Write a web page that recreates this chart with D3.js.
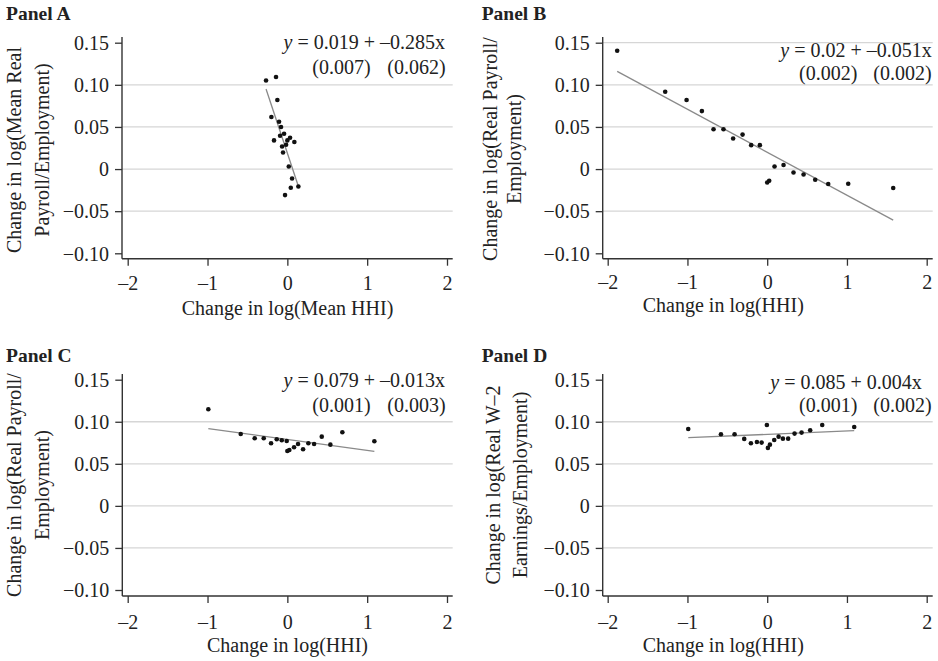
<!DOCTYPE html>
<html>
<head>
<meta charset="utf-8">
<script src="https://cdn.jsdelivr.net/npm/d3@7"></script>
<style>
  body { margin: 0; background: #fff; }
  svg { display: block; }
  text { font-family: "Liberation Serif", "Times New Roman", serif; fill: #222; }
</style>
</head>
<body>
<svg id="chart" width="938" height="661"></svg>
<script>
// Axis ticks shared by all four panels
const xTicks = [-2, -1, 0, 1, 2];
const yTicks = [0.15, 0.10, 0.05, 0, -0.05, -0.10];

// Panel A: mean HHI vs mean real payroll per employee
const aX = [-0.267, -0.142, -0.125, -0.200, -0.104, -0.079, -0.041, -0.091, 0.034, -0.167,
            0.000, 0.088, -0.016, -0.066, -0.054, 0.018, 0.059, 0.138, 0.043, -0.029];
const aY = [0.1052, 0.1093, 0.0820, 0.0618, 0.0562, 0.0499, 0.0419, 0.0396, 0.0372, 0.0340,
            0.0340, 0.0321, 0.0289, 0.0268, 0.0197, 0.0031, -0.0112, -0.0207, -0.0222, -0.0309];
// Panel B: HHI vs real payroll per employee
const bX = [-1.881, -1.279, -1.011, -0.819, -0.673, -0.548, -0.427, -0.309, -0.201, -0.092,
            0.000, 0.025, 0.092, 0.205, 0.330, 0.456, 0.602, 0.765, 1.016, 1.580];
const bY = [0.1405, 0.0918, 0.0819, 0.0688, 0.0473, 0.0473, 0.0362, 0.0409, 0.0284, 0.0284,
            -0.0159, -0.0139, 0.0031, 0.0048, -0.0040, -0.0064, -0.0127, -0.0178, -0.0174, -0.0225];
// Panel C: HHI vs real payroll per employee (second sample)
const cX = [-0.990, -0.584, -0.409, -0.296, -0.204, -0.133, -0.070, -0.008, 0.000, 0.025,
            0.084, 0.134, 0.197, 0.263, 0.335, 0.431, 0.539, 0.689, 1.090];
const cY = [0.1148, 0.0855, 0.0804, 0.0804, 0.0745, 0.0792, 0.0780, 0.0772, 0.0653, 0.0665,
            0.0697, 0.0736, 0.0673, 0.0745, 0.0736, 0.0823, 0.0728, 0.0875, 0.0768];
// Panel D: HHI vs real W-2 earnings per employee
const dX = [-0.990, -0.580, -0.409, -0.288, -0.204, -0.129, -0.070, -0.004, 0.009, 0.034,
            0.088, 0.143, 0.197, 0.263, 0.343, 0.431, 0.539, 0.690, 1.091];
const dY = [0.0914, 0.0852, 0.0852, 0.0796, 0.0745, 0.0760, 0.0752, 0.0962, 0.0689, 0.0728,
            0.0784, 0.0823, 0.0799, 0.0799, 0.0859, 0.0871, 0.0899, 0.0962, 0.0938];

// Fitted lines: intercept, slope and their standard errors
const intercepts = [0.019, 0.02, 0.079, 0.085];
const slopes = [-0.285, -0.051, -0.013, 0.004];
const interceptSE = [0.007, 0.002, 0.001, 0.001];
const slopeSE = [0.062, 0.002, 0.003, 0.002];

const panelTitles = ["Panel A", "Panel B", "Panel C", "Panel D"];
const xTitles = ["Change in log(Mean HHI)", "Change in log(HHI)", "Change in log(HHI)", "Change in log(HHI)"];
const yTitles = [
  ["Change in log(Mean Real", "Payroll/Employment)"],
  ["Change in log(Real Payroll/", "Employment)"],
  ["Change in log(Real Payroll/", "Employment)"],
  ["Change in log(Real W\u20132", "Earnings/Employment)"]
];
const gridTicks = [
  [0.10, 0.05, 0, -0.05],
  [0.15, 0.10, 0.05, 0, -0.05],
  [0.10, 0.05, 0, -0.05],
  [0.10, 0.05, 0, -0.05]
];
const xsAll = [aX, bX, cX, dX];
const ysAll = [aY, bY, cY, dY];

// Page layout of each panel (pixels)
const layout = [
  { left: 122, right: 452.7, x0: 127.7, x1: 447, yTop: 42.7, yBot: 253.3, axTop: 37, axBot: 258.7,
    title: [6, 20], yl: [21, 49, 150], xl: [287.5, 315], tickY: 290,
    eq: { x: 445, y1: 49.3, y2: 73.5, c1: 370.7, c2: 445.7 } },
  { left: 602.7, right: 932.7, x0: 607.7, x1: 926.7, yTop: 42.7, yBot: 253.3, axTop: 37, axBot: 258.7,
    title: [481.7, 20], yl: [497, 521, 149], xl: [723.3, 311.7], tickY: 289.5,
    eq: { x: 931.7, y1: 56.7, y2: 80, c1: 857.3, c2: 931.7 } },
  { left: 122.3, right: 452.7, x0: 127.7, x1: 447, yTop: 379.7, yBot: 590, axTop: 374, axBot: 596,
    title: [6, 361.7], yl: [21, 49, 485], xl: [287.5, 651.7], tickY: 628.5,
    eq: { x: 445, y1: 387.3, y2: 411.5, c1: 370.7, c2: 445.7 } },
  { left: 602.7, right: 932.7, x0: 607.7, x1: 926.7, yTop: 379.7, yBot: 590, axTop: 374, axBot: 596,
    title: [481.7, 361.7], yl: [500, 527, 485], xl: [723.3, 651.7], tickY: 628.5,
    eq: { x: 921.7, y1: 389, y2: 412, c1: 857.3, c2: 931.7 } }
];

const dash = s => s.replace(/-/g, "\u2013");
const fmtTickY = v => v === 0 ? "0" : dash(d3.format(".2f")(v));
const fmtTickX = v => dash(String(v));
const fmtCoef = v => dash(String(v));
const fmtSE = v => "(" + d3.format(".3f")(v) + ")";

const svg = d3.select("#chart");
const FS = 20;

layout.forEach((L, i) => {
  const g = svg.append("g");
  const x = d3.scaleLinear().domain([-2, 2]).range([L.x0, L.x1]);
  const y = d3.scaleLinear().domain([-0.10, 0.15]).range([L.yBot, L.yTop]);

  // gridlines
  g.selectAll(".grid").data(gridTicks[i]).join("line")
    .attr("x1", L.left).attr("x2", L.right)
    .attr("y1", d => y(d)).attr("y2", d => y(d))
    .attr("stroke", "#d6d6d6").attr("stroke-width", 1.3);

  // y axis
  const yAxis = d3.axisLeft(y).tickValues(yTicks).tickFormat(fmtTickY)
    .tickSize(7).tickPadding(6);
  const ya = g.append("g").attr("transform", `translate(${L.left},0)`).call(yAxis);
  ya.select(".domain").remove();
  ya.selectAll(".tick line").attr("stroke", "#333").attr("stroke-width", 1.3);
  ya.selectAll(".tick text").attr("font-size", FS).attr("font-family", "Liberation Serif")
    .attr("fill", "#222").attr("dy", "0.34em");
  g.append("line").attr("x1", L.left).attr("x2", L.left)
    .attr("y1", L.axTop).attr("y2", L.axBot).attr("stroke", "#333").attr("stroke-width", 1.4);

  // x axis
  const xAxis = d3.axisBottom(x).tickValues(xTicks).tickFormat(fmtTickX)
    .tickSize(7).tickPadding(0);
  const xa = g.append("g").attr("transform", `translate(0,${L.axBot})`).call(xAxis);
  xa.select(".domain").remove();
  xa.selectAll(".tick line").attr("stroke", "#333").attr("stroke-width", 1.3);
  xa.selectAll(".tick text").attr("font-size", FS).attr("font-family", "Liberation Serif")
    .attr("fill", "#222").attr("y", L.tickY - L.axBot).attr("dy", 0);
  g.append("line").attr("x1", L.left).attr("x2", L.right)
    .attr("y1", L.axBot).attr("y2", L.axBot).attr("stroke", "#333").attr("stroke-width", 1.4);

  // fitted line over the range of the data
  const xs = xsAll[i], ys = ysAll[i];
  const [xmin, xmax] = d3.extent(xs);
  const fit = v => intercepts[i] + slopes[i] * v;
  g.append("path")
    .datum([xmin, xmax])
    .attr("d", d3.line().x(v => x(v)).y(v => y(fit(v))))
    .attr("stroke", "#8a8a8a").attr("stroke-width", 1.3).attr("fill", "none");

  // points
  g.selectAll(".pt").data(xs.map((v, k) => [v, ys[k]])).join("circle")
    .attr("cx", d => x(d[0])).attr("cy", d => y(d[1])).attr("r", 2.3)
    .attr("fill", "#111");

  // equation and standard errors
  const eq = g.append("text").attr("x", L.eq.x).attr("y", L.eq.y1)
    .attr("text-anchor", "end").attr("font-size", FS);
  eq.append("tspan").attr("font-style", "italic").text("y");
  eq.append("tspan").text(" = " + fmtCoef(intercepts[i]) + " + " + fmtCoef(slopes[i]) + "x");
  g.append("text").attr("x", L.eq.c1).attr("y", L.eq.y2).attr("text-anchor", "end")
    .attr("font-size", FS).text(fmtSE(interceptSE[i]));
  g.append("text").attr("x", L.eq.c2).attr("y", L.eq.y2).attr("text-anchor", "end")
    .attr("font-size", FS).text(fmtSE(slopeSE[i]));

  // titles
  g.append("text").attr("x", L.title[0]).attr("y", L.title[1])
    .attr("font-size", 19.5).attr("font-weight", "bold").text(panelTitles[i]);
  g.append("text").attr("x", L.xl[0]).attr("y", L.xl[1]).attr("text-anchor", "middle")
    .attr("font-size", FS).text(xTitles[i]);
  yTitles[i].forEach((t, k) => {
    const px = L.yl[k];
    g.append("text").attr("transform", `translate(${px},${L.yl[2]}) rotate(-90)`)
      .attr("text-anchor", "middle").attr("font-size", FS).text(t);
  });
});
</script>
</body>
</html>
